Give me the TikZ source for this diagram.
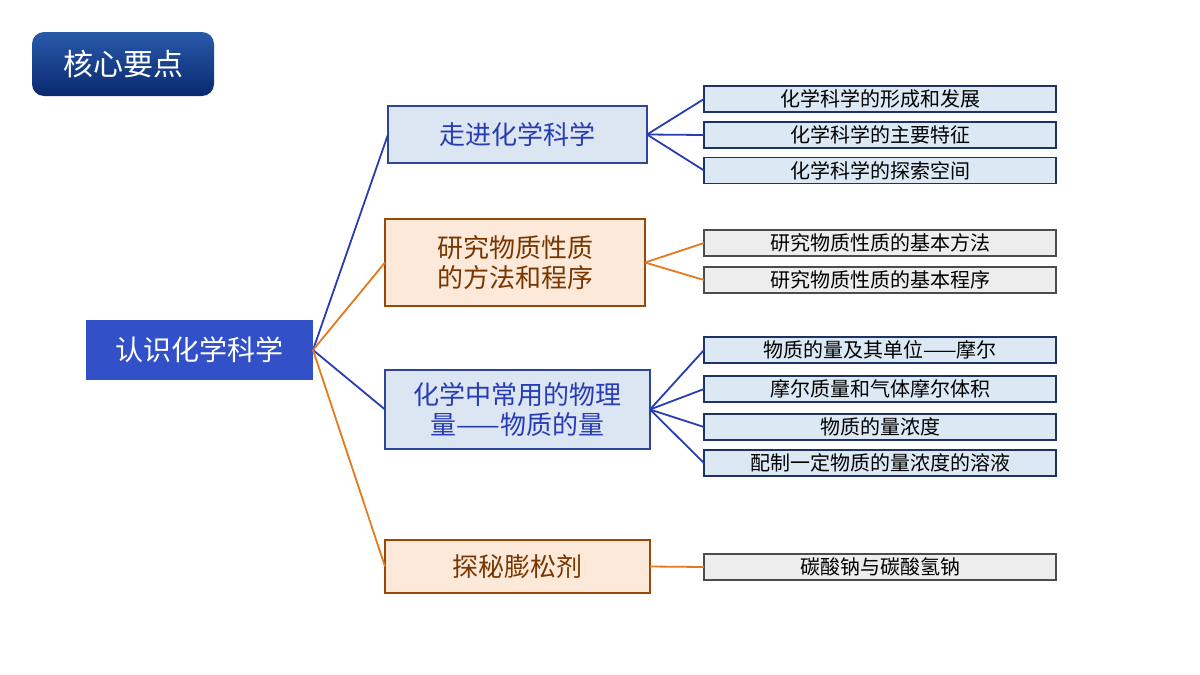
\documentclass[tikz,border=0pt]{standalone}
\usepackage{fontspec}
\setmainfont{Noto Sans CJK SC}
\definecolor{bfill}{RGB}{220,230,242}
\definecolor{bdraw}{RGB}{45,70,150}
\definecolor{ofill}{RGB}{253,233,217}
\definecolor{odraw}{RGB}{152,72,7}
\definecolor{btext}{RGB}{40,60,180}
\definecolor{otext}{RGB}{120,55,0}
\definecolor{lfill}{RGB}{220,233,245}
\definecolor{ldraw}{RGB}{30,50,100}
\definecolor{oline}{RGB}{230,120,30}
\definecolor{rootc}{RGB}{50,80,200}
\definecolor{ttop}{RGB}{40,90,170}
\definecolor{tbot}{RGB}{10,40,110}
\begin{document}
\begin{tikzpicture}[x=0.5pt,y=-0.5pt,
 lb/.style={draw=bdraw,line width=1pt,fill=bfill},
 ob/.style={draw=odraw,line width=1pt,fill=ofill},
 bt/.style={text=btext,font=\fontsize{13}{15}\selectfont},
 ot/.style={text=otext,font=\fontsize{13}{15}\selectfont},
 lf/.style={draw=ldraw,line width=0.9pt,fill=lfill},
 gf/.style={draw=black!70,line width=0.9pt,fill=black!7},
 bl/.style={draw=btext,line width=0.9pt},
 ol/.style={draw=oline,line width=0.9pt}]
\useasboundingbox (0,0) rectangle (1200,675);
\shade[rounded corners=6pt,top color=ttop,bottom color=tbot] (32,32) rectangle (214,96);
\node[text=white,font=\fontsize{15}{18}\selectfont] (t) at (123,64) {核心要点};
\fill[rootc] (86,320) rectangle (313,380);
\node[text=white,font=\fontsize{14}{17}\selectfont] (r) at (199.5,350) {认识化学科学};
\coordinate (ro) at (313,350);
\draw[lb] (388,106) rectangle (647,163); \node[bt] (b1) at (517.5,134.5) {走进化学科学};
\draw[ob] (385,219) rectangle (645,306); \node[ot,align=center] (b2) at (515,262.5) {研究物质性质\\的方法和程序};
\draw[lb] (385,370) rectangle (650,449); \node[bt,align=center] (b3) at (517.5,409.5) {化学中常用的物理\\量——物质的量};
\draw[ob] (385,540) rectangle (650,593); \node[ot] (b4) at (517.5,566.5) {探秘膨松剂};
\coordinate (b1l) at (388,134.5); \coordinate (b1r) at (647,134.5);
\coordinate (b2l) at (385,262.5); \coordinate (b2r) at (645,262.5);
\coordinate (b3l) at (385,409.5); \coordinate (b3r) at (650,409.5);
\coordinate (b4l) at (385,566.5); \coordinate (b4r) at (650,566.5);
\draw[bl] (ro)--(b1l); \draw[ol] (ro)--(b2l); \draw[bl] (ro)--(b3l); \draw[ol] (ro)--(b4l);
\foreach \n/\y/\s/\t/\l/\b in {a/99/lf/化学科学的形成和发展/bl/b1r, b/135/lf/化学科学的主要特征/bl/b1r, c/170.5/lf/化学科学的探索空间/bl/b1r,
 d/243/gf/研究物质性质的基本方法/ol/b2r, e/280/gf/研究物质性质的基本程序/ol/b2r,
 f/350/lf/物质的量及其单位——摩尔/bl/b3r, g/389/lf/摩尔质量和气体摩尔体积/bl/b3r, h/427/lf/物质的量浓度/bl/b3r, i/463/lf/配制一定物质的量浓度的溶液/bl/b3r,
 j/567/gf/碳酸钠与碳酸氢钠/ol/b4r}{
 \draw[\s] (704,\y-13) rectangle (1056,\y+13);
 \node[font=\fontsize{10}{12}\selectfont] (\n) at (880,\y) {\t};
 \coordinate (\n l) at (704,\y);
 \draw[\l] (\b)--(\n l);
}
\end{tikzpicture}
\end{document}
